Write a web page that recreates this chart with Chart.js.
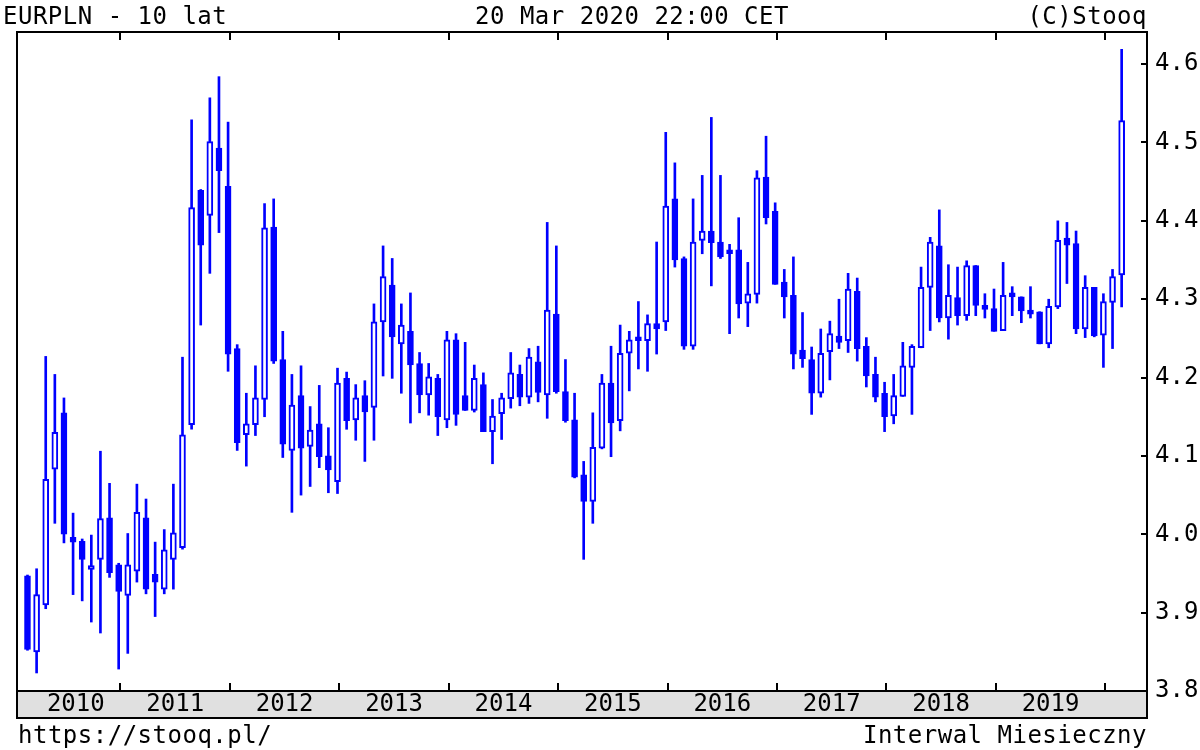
<!DOCTYPE html>
<html>
<head>
<meta charset="utf-8">
<title>EURPLN - 10 lat</title>
<script src="https://cdn.jsdelivr.net/npm/chart.js@4.4.1/dist/chart.umd.min.js"></script>
<style>
  html, body { margin: 0; padding: 0; background: #fff; }
  #wrap { position: relative; width: 1200px; height: 750px; overflow: hidden; }
  #chart { position: absolute; left: 0; top: 0; }
  .txt { position: absolute; font-family: 'DejaVu Sans Mono', monospace; font-size: 24px; line-height: 24px; color: #000; white-space: nowrap; letter-spacing: 0.5px; }
</style>
</head>
<body>
<div id="wrap">
  <canvas id="chart" width="1200" height="750"></canvas>
  <div class="txt" style="left:3px; top:4px;">EURPLN - 10 lat</div>
  <div class="txt" style="left:632px; top:4px; transform:translateX(-50%);">20 Mar 2020 22:00 CET</div>
  <div class="txt" style="right:53px; top:4px;">(C)Stooq</div>
  <div class="txt" style="left:18px; top:723px;">https://stooq.pl/</div>
  <div class="txt" style="right:53px; top:723px;">Interwal Miesieczny</div>
</div>
<script>
// Monthly EURPLN candles, Mar 2010 .. Mar 2020 (index 0 = Mar 2010)
const openP = [
  3.947, 3.850, 3.910, 4.083, 4.155, 3.996, 3.991, 3.955, 3.968, 4.021,
  3.961, 3.922, 3.953, 4.021, 3.949, 3.930, 3.968, 3.983, 4.140, 4.439,
  4.407, 4.493, 4.444, 4.237, 4.127, 4.140, 4.172, 4.392, 4.223, 4.107,
  4.177, 4.112, 4.141, 4.100, 4.067, 4.199, 4.146, 4.177, 4.162, 4.271,
  4.318, 4.243, 4.259, 4.218, 4.178, 4.199, 4.146, 4.248, 4.177, 4.158,
  4.191, 4.131, 4.154, 4.173, 4.204, 4.175, 4.220, 4.178, 4.281, 4.182,
  4.146, 4.076, 4.042, 4.110, 4.193, 4.145, 4.231, 4.251, 4.247, 4.269,
  4.271, 4.428, 4.352, 4.240, 4.375, 4.387, 4.373, 4.363, 4.363, 4.295,
  4.306, 4.456, 4.412, 4.322, 4.305, 4.235, 4.223, 4.180, 4.233, 4.253,
  4.247, 4.310, 4.240, 4.204, 4.180, 4.151, 4.176, 4.213, 4.238, 4.315,
  4.368, 4.276, 4.302, 4.279, 4.343, 4.291, 4.288, 4.260, 4.306, 4.303,
  4.286, 4.284, 4.243, 4.290, 4.378, 4.371, 4.262, 4.315, 4.254, 4.296,
  4.331
];
const highP = [
  3.948, 3.956, 4.227, 4.204, 4.174, 4.027, 3.994, 3.999, 4.106, 4.065,
  3.963, 4.001, 4.064, 4.045, 3.990, 4.006, 4.064, 4.226, 4.529, 4.440,
  4.557, 4.584, 4.526, 4.242, 4.180, 4.215, 4.422, 4.428, 4.259, 4.204,
  4.215, 4.163, 4.190, 4.136, 4.212, 4.207, 4.191, 4.196, 4.294, 4.368,
  4.352, 4.294, 4.308, 4.232, 4.218, 4.204, 4.259, 4.256, 4.245, 4.216,
  4.206, 4.172, 4.180, 4.232, 4.216, 4.237, 4.240, 4.398, 4.368, 4.223,
  4.180, 4.093, 4.155, 4.204, 4.240, 4.267, 4.259, 4.297, 4.280, 4.373,
  4.513, 4.474, 4.354, 4.428, 4.458, 4.532, 4.458, 4.370, 4.404, 4.347,
  4.464, 4.508, 4.423, 4.338, 4.354, 4.283, 4.239, 4.262, 4.272, 4.300,
  4.333, 4.327, 4.251, 4.226, 4.194, 4.204, 4.245, 4.242, 4.341, 4.379,
  4.414, 4.344, 4.341, 4.349, 4.343, 4.307, 4.313, 4.347, 4.316, 4.303,
  4.316, 4.284, 4.300, 4.400, 4.398, 4.387, 4.330, 4.315, 4.307, 4.338,
  4.619
];
const lowP = [
  3.852, 3.823, 3.905, 4.014, 3.989, 3.923, 3.915, 3.888, 3.874, 3.945,
  3.828, 3.848, 3.939, 3.924, 3.895, 3.924, 3.930, 3.981, 4.134, 4.267,
  4.333, 4.385, 4.208, 4.107, 4.087, 4.126, 4.150, 4.218, 4.098, 4.028,
  4.050, 4.061, 4.085, 4.053, 4.052, 4.134, 4.120, 4.093, 4.120, 4.202,
  4.199, 4.180, 4.142, 4.155, 4.152, 4.126, 4.136, 4.139, 4.158, 4.156,
  4.131, 4.090, 4.121, 4.161, 4.164, 4.167, 4.169, 4.148, 4.180, 4.143,
  4.072, 3.968, 4.014, 4.109, 4.099, 4.132, 4.183, 4.211, 4.208, 4.230,
  4.260, 4.341, 4.236, 4.236, 4.358, 4.317, 4.352, 4.256, 4.276, 4.265,
  4.295, 4.396, 4.319, 4.276, 4.211, 4.213, 4.153, 4.175, 4.197, 4.237,
  4.232, 4.221, 4.188, 4.169, 4.131, 4.141, 4.176, 4.153, 4.238, 4.260,
  4.271, 4.249, 4.267, 4.273, 4.279, 4.276, 4.259, 4.260, 4.279, 4.270,
  4.276, 4.243, 4.238, 4.288, 4.320, 4.256, 4.251, 4.252, 4.213, 4.237,
  4.290
];
const closeP = [
  3.853, 3.923, 4.070, 4.130, 4.000, 3.990, 3.968, 3.960, 4.020, 3.951,
  3.927, 3.961, 4.028, 3.930, 3.939, 3.980, 4.002, 4.127, 4.417, 4.369,
  4.501, 4.464, 4.230, 4.117, 4.141, 4.174, 4.391, 4.221, 4.115, 4.165,
  4.110, 4.133, 4.099, 4.082, 4.193, 4.145, 4.174, 4.156, 4.271, 4.329,
  4.252, 4.267, 4.216, 4.178, 4.201, 4.150, 4.248, 4.153, 4.158, 4.199,
  4.131, 4.151, 4.174, 4.206, 4.175, 4.226, 4.181, 4.286, 4.182, 4.145,
  4.073, 4.042, 4.111, 4.193, 4.142, 4.231, 4.248, 4.247, 4.269, 4.262,
  4.419, 4.350, 4.240, 4.373, 4.387, 4.372, 4.354, 4.358, 4.294, 4.307,
  4.455, 4.404, 4.319, 4.303, 4.230, 4.224, 4.180, 4.231, 4.256, 4.245,
  4.313, 4.237, 4.202, 4.175, 4.150, 4.177, 4.215, 4.240, 4.315, 4.373,
  4.276, 4.305, 4.279, 4.343, 4.292, 4.287, 4.259, 4.305, 4.303, 4.285,
  4.281, 4.243, 4.291, 4.375, 4.369, 4.262, 4.315, 4.253, 4.297, 4.329,
  4.528
];
const yearLabels = ['2010', '2011', '2012', '2013', '2014', '2015', '2016', '2017', '2018', '2019'];
const priceTicks = [3.8, 3.9, 4.0, 4.1, 4.2, 4.3, 4.4, 4.5, 4.6];

const BLUE = '#0000ff';

// month axis: candle i sits at x = i; Jan 2011 boundary falls at 10.2
const FIRST_JAN = 10.2;
const X_MIN = -1.15;
const X_MAX = 122.78;
const yearEdges = yearLabels.map((_, k) => FIRST_JAN + 12 * k);
const yearMids = yearLabels.map((_, k) => k === 0 ? 5.3 : FIRST_JAN - 6 + 12 * k);

const idx = closeP.map((_, i) => i);
const wickData = idx.map(i => ({ x: i, y: [lowP[i], highP[i]] }));
const bodyData = idx.map(i => ({ x: i, y: [Math.min(openP[i], closeP[i]), Math.max(openP[i], closeP[i])] }));
const bodyFill = idx.map(i => closeP[i] < openP[i] ? BLUE : '#ffffff');

const bottomTicks = [];
yearLabels.forEach((yr, k) => {
    bottomTicks.push({ value: yearMids[k], yr: yr });
    bottomTicks.push({ value: yearEdges[k], yr: '' });
});
bottomTicks.sort((a, b) => a.value - b.value);

// Background band under the plot and the black frame
const framePlugin = {
    id: 'frame',
    beforeDraw(chart) {
        const { ctx, chartArea: a } = chart;
        const xs = chart.scales.x;
        ctx.save();
        ctx.fillStyle = '#ffffff';
        ctx.fillRect(0, 0, chart.width, chart.height);
        ctx.fillStyle = '#e0e0e0';
        ctx.fillRect(a.left, a.bottom, a.right - a.left, xs.bottom - a.bottom);
        ctx.restore();
    },
    afterDraw(chart) {
        const { ctx, chartArea: a } = chart;
        const xs = chart.scales.x;
        ctx.save();
        ctx.strokeStyle = '#000';
        ctx.lineWidth = 2;
        ctx.strokeRect(a.left, a.top, a.right - a.left, xs.bottom - a.top);
        ctx.beginPath();
        ctx.moveTo(a.left, a.bottom);
        ctx.lineTo(a.right, a.bottom);
        ctx.stroke();
        ctx.restore();
    }
};

Chart.defaults.font.family = "'DejaVu Sans Mono', monospace";
Chart.defaults.font.size = 24;
Chart.defaults.color = '#000';

new Chart(document.getElementById('chart'), {
    type: 'bar',
    data: {
        datasets: [
            {
                label: 'body',
                data: bodyData,
                backgroundColor: bodyFill,
                borderColor: BLUE,
                borderWidth: 2,
                borderSkipped: false,
                barThickness: 6,
                minBarLength: 4,
                grouped: false
            },
            {
                label: 'wick',
                data: wickData,
                backgroundColor: BLUE,
                borderWidth: 0,
                barThickness: 2,
                grouped: false
            }
        ]
    },
    options: {
        responsive: false,
        animation: false,
        events: [],
        layout: { padding: { left: 17, right: 0, top: 32, bottom: 32 } },
        plugins: { legend: { display: false }, tooltip: { enabled: false } },
        scales: {
            x: {
                type: 'linear',
                position: 'bottom',
                min: X_MIN,
                max: X_MAX,
                offset: false,
                afterBuildTicks: s => { s.ticks = bottomTicks.map(t => ({ value: t.value, yr: t.yr })); },
                afterFit: s => { s.height = 27; },
                ticks: {
                    autoSkip: false,
                    maxRotation: 0,
                    padding: 7,
                    callback: (v, i, ticks) => ticks[i].yr
                },
                grid: {
                    offset: false,
                    drawOnChartArea: false,
                    tickLength: -8,
                    lineWidth: 2,
                    color: '#000',
                    tickColor: c => (c.tick && c.tick.yr) ? 'rgba(0,0,0,0)' : '#000'
                },
                border: { display: false }
            },
            xTop: {
                type: 'linear',
                position: 'top',
                min: X_MIN,
                max: X_MAX,
                offset: false,
                afterBuildTicks: s => { s.ticks = yearEdges.map(v => ({ value: v })); },
                afterFit: s => { s.height = 0; },
                ticks: { display: false },
                grid: { offset: false, drawOnChartArea: false, tickLength: -8, lineWidth: 2, color: '#000' },
                border: { display: false }
            },
            y: {
                position: 'right',
                min: 3.8,
                max: 4.641,
                afterBuildTicks: s => { s.ticks = priceTicks.map(v => ({ value: v })); },
                afterFit: s => { s.width = 53; },
                ticks: {
                    padding: 14,
                    callback: v => Number(v).toFixed(1)
                },
                grid: { drawOnChartArea: false, tickLength: -6, lineWidth: 2, color: '#000' },
                border: { display: false }
            }
        }
    },
    plugins: [framePlugin]
});
</script>
</body>
</html>
